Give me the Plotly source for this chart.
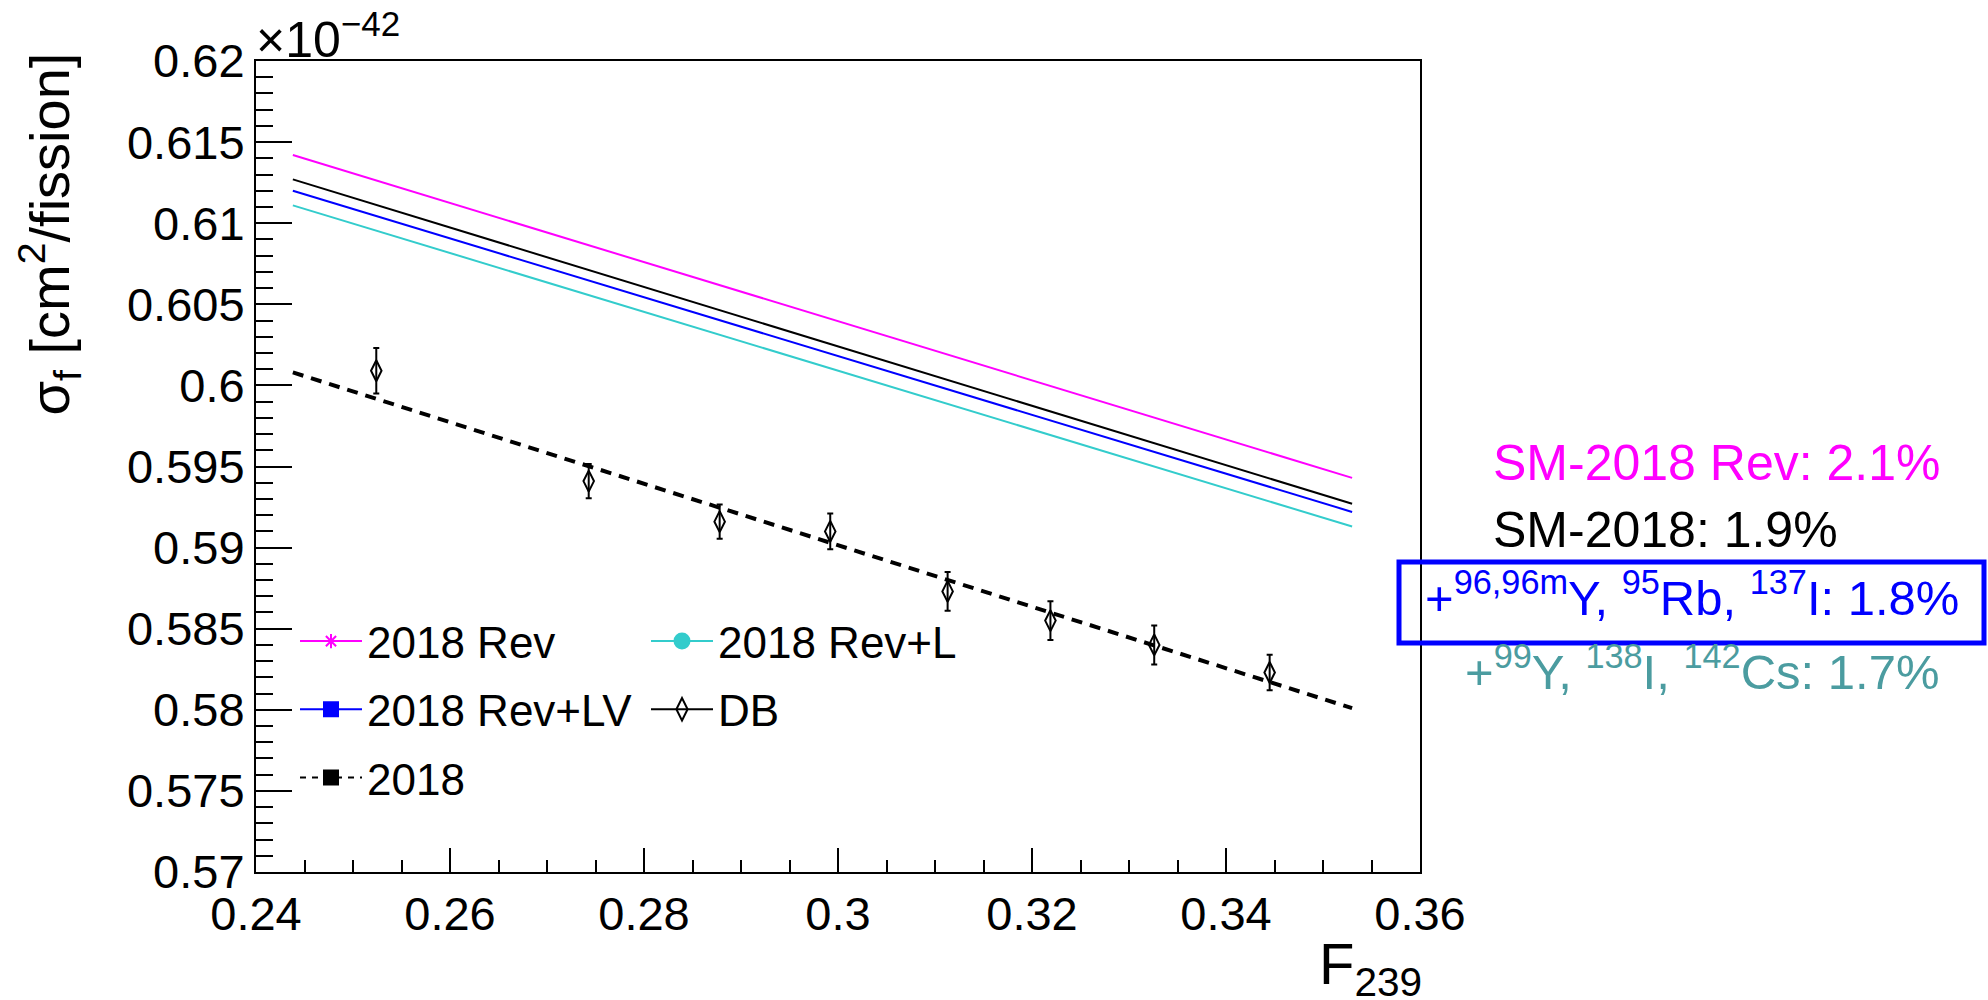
import plotly.graph_objects as go

# ---------------- data (sigma_f in units of 1e-42 cm^2/fission) ----------------
line_x = [0.2438, 0.3530]
rev_y = [0.6142, 0.5943]       # 2018 Rev
sm2018_y = [0.6127, 0.5927]    # SM-2018 (solid black)
revLV_y = [0.6120, 0.5922]     # 2018 Rev+LV
revL_y = [0.6111, 0.5913]      # 2018 Rev+L
fit2018_y = [0.6008, 0.5801]   # 2018 (dashed)

db_x = [0.2524, 0.2743, 0.2878, 0.2992, 0.3113, 0.3219, 0.3326, 0.3445]
db_y = [0.6009, 0.5941, 0.5916, 0.5910, 0.5873, 0.5855, 0.5840, 0.5823]
db_err = [0.0014, 0.00105, 0.00105, 0.0011, 0.0012, 0.0012, 0.0012, 0.0011]

x_ticks = [0.24, 0.26, 0.28, 0.30, 0.32, 0.34, 0.36]
x_ticklabels = ["0.24", "0.26", "0.28", "0.3", "0.32", "0.34", "0.36"]
y_ticks = [0.570, 0.575, 0.580, 0.585, 0.590, 0.595, 0.600, 0.605, 0.610, 0.615, 0.620]
y_ticklabels = ["0.57", "0.575", "0.58", "0.585", "0.59", "0.595", "0.6", "0.605", "0.61", "0.615", "0.62"]

legend_names = ["2018 Rev", "2018 Rev+LV", "2018", "2018 Rev+L", "DB"]
notes = ["SM-2018 Rev: 2.1%", "SM-2018: 1.9%",
         "+<sup>96,96m</sup>Y, <sup>95</sup>Rb, <sup>137</sup>I: 1.8%",
         "+<sup>99</sup>Y, <sup>138</sup>I, <sup>142</sup>Cs: 1.7%"]

FONT = "Liberation Sans, Arial, Helvetica, sans-serif"
MAG = "#FF00FF"
BLUE = "#0000FF"
CYAN = "#33CCCC"
TEAL = "#4B9CA0"

W, H = 1988, 1000
L, R, T, B = 256, 568, 61, 128
PW, PH = W - L - R, H - T - B


def px(xp):
    return (xp - L) / PW


def py(yp):
    return (H - B - yp) / PH


fig = go.Figure()

# plotted curves
fig.add_trace(go.Scatter(x=line_x, y=rev_y, mode="lines", line=dict(color=MAG, width=2), showlegend=False))
fig.add_trace(go.Scatter(x=line_x, y=sm2018_y, mode="lines", line=dict(color="black", width=2), showlegend=False))
fig.add_trace(go.Scatter(x=line_x, y=revLV_y, mode="lines", line=dict(color=BLUE, width=2), showlegend=False))
fig.add_trace(go.Scatter(x=line_x, y=revL_y, mode="lines", line=dict(color=CYAN, width=2), showlegend=False))
fig.add_trace(go.Scatter(x=line_x, y=fit2018_y, mode="lines",
                         line=dict(color="black", width=4, dash="11px,8px"), showlegend=False))
fig.add_trace(go.Scatter(x=db_x, y=db_y, mode="markers",
                         marker=dict(symbol="diamond-tall-open", size=15, color="black", line=dict(width=2, color="black")),
                         error_y=dict(type="data", array=db_err, visible=True, color="black", thickness=2, width=3),
                         showlegend=False))

# legend entries
leg_specs = [
    (legend_names[0], MAG, "solid", "asterisk-open", 12, "legend"),
    (legend_names[1], BLUE, "solid", "square", 14, "legend"),
    (legend_names[2], "black", "dash", "square", 14, "legend"),
    (legend_names[3], CYAN, "solid", "circle", 15, "legend2"),
    (legend_names[4], "black", "solid", "diamond-tall-open", 17, "legend2"),
]
for i, (nm, col, dash, sym, sz, lg) in enumerate(leg_specs):
    fig.add_trace(go.Scatter(
        x=[None], y=[None], mode="lines+markers", name=nm, legend=lg, legendgroup="g%d" % i,
        line=dict(color=col, width=2, dash=("6px,6px" if dash == "dash" else "solid")),
        marker=dict(symbol=sym, size=sz, color=col, line=dict(color=col, width=2)),
    ))

axis_common = dict(showline=True, linecolor="black", linewidth=2, mirror=True,
                   showgrid=False, zeroline=False, ticks="inside", tickcolor="black",
                   tickwidth=2, tickfont=dict(family=FONT, size=47, color="black"),
                   tickmode="array")

fig.update_xaxes(range=[0.24, 0.36], tickvals=x_ticks, ticktext=x_ticklabels, ticklen=24,
                 minor=dict(tickmode="linear", tick0=0.24, dtick=0.005, ticks="inside",
                            ticklen=12, tickwidth=2, tickcolor="black"),
                 **axis_common)
fig.update_yaxes(range=[0.57, 0.62], tickvals=y_ticks, ticktext=y_ticklabels, ticklen=36,
                 minor=dict(tickmode="linear", tick0=0.57, dtick=0.001, ticks="inside",
                            ticklen=17, tickwidth=2, tickcolor="black"),
                 **axis_common)

annotations = [
    dict(text="σ<sub>f</sub> [cm<sup>2</sup>/fission]", textangle=-90, x=px(50), y=py(51),
         xanchor="center", yanchor="top", font=dict(size=56, color="black")),
    dict(text="F<sub>239</sub>", x=px(1424), y=py(968), xanchor="right", yanchor="middle",
         font=dict(size=58, color="black")),
    dict(text="×10<sup>−42</sup>", x=px(254), y=py(70), xanchor="left", yanchor="bottom",
         font=dict(size=50, color="black")),
    dict(text=notes[0], x=px(1491), y=py(463), xanchor="left", yanchor="middle", font=dict(size=50, color=MAG)),
    dict(text=notes[1], x=px(1491), y=py(530), xanchor="left", yanchor="middle", font=dict(size=50, color="black")),
    dict(text=notes[2], x=px(1423), y=py(594), xanchor="left", yanchor="middle", font=dict(size=49, color=BLUE)),
    dict(text=notes[3], x=px(1463), y=py(668), xanchor="left", yanchor="middle", font=dict(size=49, color=TEAL)),
]
for a in annotations:
    a.update(xref="paper", yref="paper", showarrow=False)
    a["font"]["family"] = FONT

fig.update_layout(
    width=W, height=H,
    margin=dict(l=L, r=R, t=T, b=B, autoexpand=False),
    paper_bgcolor="white", plot_bgcolor="white",
    font=dict(family=FONT, color="black"),
    annotations=annotations,
    shapes=[dict(type="rect", xref="paper", yref="paper", x0=px(1399), x1=px(1984),
                 y0=py(643), y1=py(562), line=dict(color=BLUE, width=5))],
    legend=dict(x=px(295), y=py(606), xanchor="left", yanchor="top", bgcolor="rgba(0,0,0,0)",
                font=dict(family=FONT, size=44, color="black"), itemwidth=62,
                traceorder="grouped", tracegroupgap=8),
    legend2=dict(x=px(646), y=py(606), xanchor="left", yanchor="top", bgcolor="rgba(0,0,0,0)",
                 font=dict(family=FONT, size=44, color="black"), itemwidth=62,
                 traceorder="grouped", tracegroupgap=8),
)

fig.write_html("out.html")
